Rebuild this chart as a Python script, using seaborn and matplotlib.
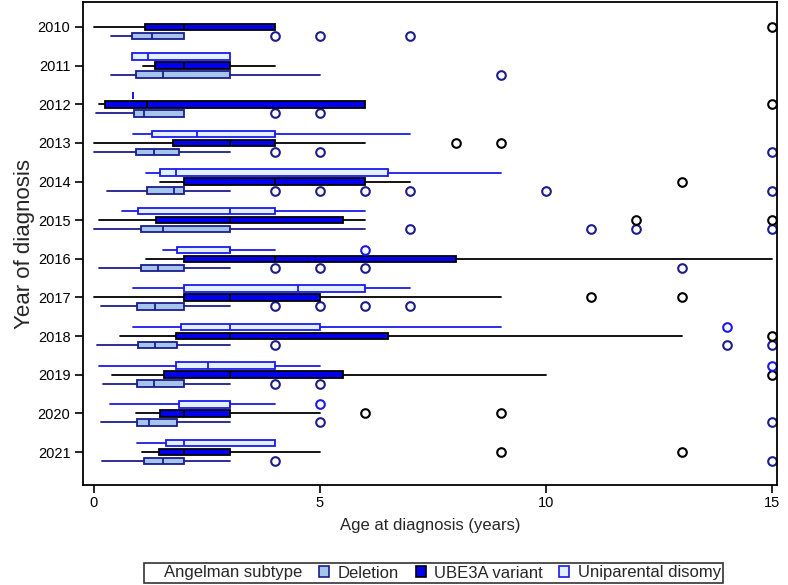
import matplotlib
matplotlib.use("Agg")
import matplotlib.pyplot as plt
import seaborn as sns
from matplotlib.patches import Patch
from matplotlib.lines import Line2D

# ---------------- data ----------------
years = [2010, 2011, 2012, 2013, 2014, 2015, 2016, 2017, 2018, 2019, 2020, 2021]
subtypes = ["Deletion", "UBE3A variant", "Uniparental disomy"]

# Deletion
del_whislo = [0.37, 0.37, 0.04, 0.0, 0.28, 0.0, 0.1, 0.15, 0.06, 0.2, 0.15, 0.18]
del_q1     = [0.85, 0.93, 0.88, 0.93, 1.18, 1.03, 1.03, 0.95, 0.98, 0.95, 0.95, 1.11]
del_med    = [1.28, 1.53, 1.11, 1.32, 1.77, 1.53, 1.42, 1.36, 1.36, 1.32, 1.21, 1.53]
del_q3     = [2.0, 3.0, 2.0, 1.88, 2.0, 3.0, 2.0, 2.0, 1.83, 2.0, 1.83, 2.0]
del_whishi = [2.0, 5.0, 2.0, 3.0, 3.0, 6.0, 3.0, 3.0, 3.0, 3.0, 3.0, 3.0]
del_fliers = [[4, 5, 7], [9], [4, 5], [4, 5, 15], [4, 5, 6, 7, 10, 15], [7, 11, 12, 15],
              [4, 5, 6, 13], [4, 5, 6, 7], [4, 14, 15], [4, 5], [5, 15], [4, 15]]

# UBE3A variant
ube_whislo = [0.0, 1.09, 0.1, 0.0, 1.45, 0.1, 1.16, 0.0, 0.57, 0.4, 0.93, 1.07]
ube_q1     = [1.13, 1.34, 0.24, 1.75, 2.0, 1.38, 2.0, 2.0, 1.82, 1.54, 1.45, 1.44]
ube_med    = [2.0, 2.0, 1.18, 3.0, 4.0, 3.0, 4.0, 3.0, 3.0, 3.0, 2.0, 2.0]
ube_q3     = [4.0, 3.0, 6.0, 4.0, 6.0, 5.5, 8.0, 5.0, 6.5, 5.5, 3.0, 3.0]
ube_whishi = [4.0, 4.0, 6.0, 6.0, 7.0, 6.0, 15.0, 9.0, 13.0, 10.0, 5.0, 5.0]
ube_fliers = [[15], [], [15], [8, 9], [13], [12, 15], [], [11, 13], [15], [15], [6, 9], [9, 13]]

# Uniparental disomy (no cases in 2010)
upd_whislo = [None, 0.85, 0.87, 0.87, 1.14, 0.61, 1.53, 0.87, 0.87, 0.1, 0.35, 0.95]
upd_q1     = [None, 0.85, 0.87, 1.28, 1.45, 0.98, 1.83, 2.0, 1.93, 1.81, 1.88, 1.6]
upd_med    = [None, 1.2, 0.87, 2.28, 1.82, 3.0, 3.0, 4.52, 3.0, 2.52, 3.0, 2.0]
upd_q3     = [None, 3.0, 0.87, 4.0, 6.5, 4.0, 3.0, 6.0, 5.0, 4.0, 3.0, 4.0]
upd_whishi = [None, 3.0, 0.87, 7.0, 9.0, 6.0, 4.0, 7.0, 9.0, 5.0, 4.0, 4.0]
upd_fliers = [[], [], [], [], [], [], [6], [], [14], [15], [5], []]

# ---------------- style ----------------
sns.set_style("white")
plt.rcParams['font.family'] = ['Liberation Sans', 'DejaVu Sans']

fill_colors = {"Deletion": "#a3c6ea", "UBE3A variant": "#0000ee", "Uniparental disomy": "#e3f1ff"}
edge_colors = {"Deletion": "#1c1c8c", "UBE3A variant": "#000000", "Uniparental disomy": "#1a1aee"}
offsets = {"Deletion": 0.233, "UBE3A variant": 0.0, "Uniparental disomy": -0.233}

series = {
    "Deletion": (del_whislo, del_q1, del_med, del_q3, del_whishi, del_fliers),
    "UBE3A variant": (ube_whislo, ube_q1, ube_med, ube_q3, ube_whishi, ube_fliers),
    "Uniparental disomy": (upd_whislo, upd_q1, upd_med, upd_q3, upd_whishi, upd_fliers),
}

fig = plt.figure(figsize=(7.88, 5.85), dpi=100)
ax = fig.add_axes([83 / 788, 1 - 485 / 585, (777 - 83) / 788, (485 - 2) / 585])

lw = 1.3
for name in subtypes:
    lo, q1, med, q3, hi, fl = series[name]
    stats, pos = [], []
    for i in range(len(years)):
        if med[i] is None:
            continue
        stats.append(dict(whislo=lo[i], q1=q1[i], med=med[i], q3=q3[i], whishi=hi[i], fliers=fl[i]))
        pos.append(i + offsets[name])
    ec = edge_colors[name]
    kw = dict(positions=pos, widths=0.17, patch_artist=True, showcaps=False,
              manage_ticks=False,
              boxprops=dict(facecolor=fill_colors[name], edgecolor=ec, linewidth=lw),
              medianprops=dict(color=ec, linewidth=lw),
              whiskerprops=dict(color=ec, linewidth=lw),
              flierprops=dict(marker='o', markerfacecolor='none', markeredgecolor=ec,
                              markersize=6.2, markeredgewidth=1.5, linestyle='none'))
    try:
        ax.bxp(stats, orientation='horizontal', **kw)
    except TypeError:
        ax.bxp(stats, vert=False, **kw)

ax.set_yticks(range(len(years)))
ax.set_yticklabels([str(y) for y in years])
ax.set_ylim(11.854, -0.647)
ax.set_xlim(-0.243, 15.11)
ax.set_xticks([0, 5, 10, 15])
ax.tick_params(axis='both', which='both', direction='out', length=6, width=1.2,
               colors='black', labelsize=10.5, left=True, bottom=True)
ax.tick_params(axis='x', pad=2)
ax.tick_params(axis='y', pad=3)
for s in ax.spines.values():
    s.set_visible(True)
    s.set_color('black')
    s.set_linewidth(1.3)

ax.set_xlabel("Age at diagnosis (years)", fontsize=12, labelpad=6)
ax.set_ylabel("Year of diagnosis", fontsize=16, labelpad=2)

handles = [Line2D([], [], linestyle='none', marker=None)]
labels = ["Angelman subtype"]
for name in subtypes:
    handles.append(Patch(facecolor=fill_colors[name], edgecolor=edge_colors[name], linewidth=1.2))
    labels.append(name)
leg = fig.legend(handles, labels, loc='center', bbox_to_anchor=(0.55, 1 - 573 / 585),
                 bbox_transform=fig.transFigure, ncol=4, frameon=True, fancybox=False,
                 edgecolor='black', fontsize=12, handlelength=0.6, handleheight=0.6,
                 handletextpad=0.5, columnspacing=1.0, borderpad=0.15)
leg.get_frame().set_linewidth(1.2)

fig.savefig("out.png", dpi=100)
